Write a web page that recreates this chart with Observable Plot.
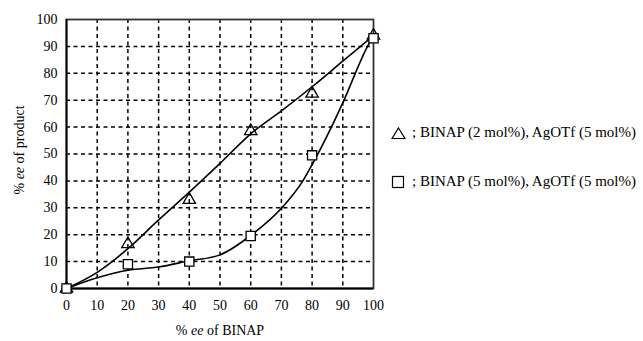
<!DOCTYPE html>
<html><head><meta charset="utf-8">
<script src="https://cdn.jsdelivr.net/npm/d3@7"></script>
<script src="https://cdn.jsdelivr.net/npm/@observablehq/plot@0.6"></script>
<style>
body{margin:0;background:#fff;font-family:'Liberation Serif';}
#wrap{position:relative;width:643px;height:341px;}
#wrap svg text{font-family:'Liberation Serif' !important;}
.leg{position:absolute;left:391px;font-size:15px;color:#000;display:flex;align-items:center;white-space:nowrap;font-family:'Liberation Serif';}
.leg svg{margin-right:6px;}
</style></head><body>
<div id="wrap"></div>
<script>
const xs = [0, 20, 40, 60, 80, 100];
const triY = [0, 16.5, 33, 58.5, 72.5, 94];
const sqY = [0, 9, 10, 19.5, 49.5, 93];
const triFitX = [0, 10, 20, 30, 40, 50, 60, 70, 80, 90, 100];
const triFitY = [0, 6, 14.8, 25.5, 35.8, 46.5, 57.5, 66, 75, 84.5, 94];
const sqFitX = [0, 10, 20, 30, 40, 50, 60, 70, 77, 80, 90, 97.6, 100];
const sqFitY = [0, 4, 6.8, 8, 10.3, 12.5, 19.7, 29.8, 40, 46, 69, 89, 94];
const ticks = [0, 10, 20, 30, 40, 50, 60, 70, 80, 90, 100];
const gridTicks = [10, 20, 30, 40, 50, 60, 70, 80, 90];

const triPts = xs.map((x, i) => ({x, y: triY[i]}));
const sqPts = xs.map((x, i) => ({x, y: sqY[i]}));
const triFit = triFitX.map((x, i) => ({x, y: triFitY[i]}));
const sqFit = sqFitX.map((x, i) => ({x, y: sqFitY[i]}));

const chart = Plot.plot({
  width: 643, height: 341,
  marginLeft: 66, marginRight: 270, marginTop: 19, marginBottom: 53,
  style: {fontFamily: "'Liberation Serif'", fontSize: "14px", color: "#000", background: "#fff"},
  x: {domain: [0, 100], ticks: ticks, label: null},
  y: {domain: [0, 100], ticks: ticks, label: null},
  marks: [
    Plot.ruleX(gridTicks, {stroke: "#000", strokeWidth: 1.5, strokeDasharray: "4,3.5", strokeOpacity: 1}),
    Plot.ruleY(gridTicks, {stroke: "#000", strokeWidth: 1.5, strokeDasharray: "4,3.5", strokeOpacity: 1}),
    Plot.frame({stroke: "#333", strokeWidth: 1.8}),
    Plot.ruleX([0], {stroke: "#000", strokeWidth: 1.8}),
    Plot.ruleY([0], {stroke: "#000", strokeWidth: 1.8}),
    Plot.axisX({ticks: ticks, tickSize: 0, tickPadding: 12, fontSize: 14, label: null}),
    Plot.axisY({ticks: ticks, tickSize: 0, tickPadding: 9, fontSize: 14, label: null}),
    Plot.line(triFit, {x: "x", y: "y", curve: "monotone-x", stroke: "#000", strokeWidth: 1.6}),
    Plot.line(sqFit, {x: "x", y: "y", curve: "monotone-x", stroke: "#000", strokeWidth: 1.6}),
    Plot.dot(triPts, {x: "x", y: "y", symbol: "triangle", r: 4.6, stroke: "#000", fill: "none", strokeWidth: 1.3}),
    Plot.dot(sqPts, {x: "x", y: "y", symbol: "square", r: 5.2, stroke: "#000", fill: "#fff", strokeWidth: 1.3})
  ]
});
const wrap = document.getElementById("wrap");
wrap.appendChild(chart);

const svg = d3.select(chart);
svg.append("text").attr("x", 220).attr("y", 335).attr("text-anchor", "middle")
  .style("font-size", "14px")
  .html('% <tspan font-style="italic">ee</tspan> of BINAP');
svg.append("text").attr("transform", "translate(24,150) rotate(-90)").attr("text-anchor", "middle")
  .style("font-size", "14px")
  .html('% <tspan font-style="italic">ee</tspan> of product');

const legendItems = [
  {sym: "tri", label: "; BINAP (2 mol%), AgOTf (5 mol%)", top: 124},
  {sym: "sq", label: "; BINAP (5 mol%), AgOTf (5 mol%)", top: 173}
];
for (const it of legendItems) {
  const d = document.createElement("div");
  d.className = "leg";
  d.style.top = it.top + "px";
  const icon = it.sym === "tri"
    ? '<svg width="15" height="14"><path d="M7.5,2 L14,12.5 L1,12.5 Z" fill="none" stroke="#000" stroke-width="1.2"/></svg>'
    : '<svg width="15" height="14"><rect x="1.5" y="1.5" width="11" height="11" fill="none" stroke="#000" stroke-width="1.2"/></svg>';
  d.innerHTML = icon + "<span>" + it.label + "</span>";
  wrap.appendChild(d);
}
</script>
</body></html>
